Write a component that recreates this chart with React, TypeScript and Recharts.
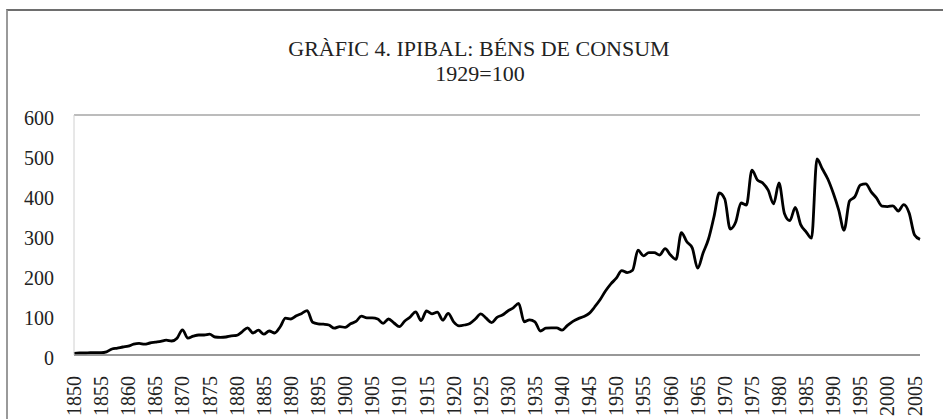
import React from "react";
import {
    LineChart,
    Line,
    XAxis,
    YAxis,
    CartesianGrid,
} from "recharts";

const firstYear = 1850;

// Índex 1929=100, un valor per any (1850-2006)
const values1850s = [4, 5, 5, 6, 6, 6, 8, 15, 17, 20];
const values1860s = [22, 27, 29, 27, 30, 32, 34, 37, 35, 42];
const values1870s = [63, 42, 47, 50, 50, 52, 45, 44, 45, 48];
const values1880s = [49, 58, 68, 55, 62, 52, 60, 55, 70, 92];
const values1890s = [90, 98, 104, 111, 82, 78, 77, 75, 67, 71];
const values1900s = [69, 78, 84, 97, 93, 93, 90, 79, 90, 80];
const values1910s = [71, 85, 95, 108, 86, 110, 103, 107, 87, 104];
const values1920s = [83, 73, 75, 79, 90, 103, 92, 81, 94, 100];
const values1930s = [110, 118, 129, 83, 88, 83, 60, 67, 68, 68];
const values1940s = [62, 74, 84, 91, 96, 104, 120, 138, 160, 178];
const values1950s = [192, 211, 206, 212, 262, 248, 256, 256, 250, 266];
const values1960s = [250, 239, 306, 283, 268, 217, 255, 290, 345, 405];
const values1970s = [390, 315, 332, 380, 375, 462, 438, 430, 412, 378];
const values1980s = [430, 354, 336, 369, 326, 308, 292, 490, 465, 440];
const values1990s = [405, 363, 312, 385, 396, 425, 428, 408, 392, 372];
const values2000s = [371, 373, 360, 376, 355, 300, 289];

const values = [
    ...values1850s,
    ...values1860s,
    ...values1870s,
    ...values1880s,
    ...values1890s,
    ...values1900s,
    ...values1910s,
    ...values1920s,
    ...values1930s,
    ...values1940s,
    ...values1950s,
    ...values1960s,
    ...values1970s,
    ...values1980s,
    ...values1990s,
    ...values2000s,
];

const yTicks = [0, 100, 200, 300, 400, 500, 600];

const data = values.map((v, i) => ({ year: String(firstYear + i), value: v }));

const font = '"Liberation Serif", "Times New Roman", serif';

function YearTick(props: any) {
    const { x, y, payload } = props;
    return (
        <g transform={`translate(${x},${y + 13})`}>
            <text
                transform="rotate(-90)"
                textAnchor="end"
                dy="0.35em"
                fontFamily={font}
                fontSize={20}
                fill="#222"
            >
                {payload.value}
            </text>
        </g>
    );
}

export default function App() {
    return (
        <div
            style={{
                position: "fixed",
                left: 0,
                top: 0,
                width: 943,
                height: 419,
                overflow: "hidden",
                background: "#fff",
            }}
        >
            <div
                style={{
                    position: "absolute",
                    left: 6,
                    top: 9,
                    width: 960,
                    height: 440,
                    borderLeft: "2px solid #9a9a9a",
                    borderTop: "2px solid #6e6e6e",
                }}
            />
            <svg
                width={943}
                height={100}
                style={{ position: "absolute", left: 0, top: 0 }}
            >
                <text
                    x={479}
                    y={56}
                    textAnchor="middle"
                    fontFamily={font}
                    fontSize={22}
                    fill="#222"
                >
                    GRÀFIC 4. IPIBAL: BÉNS DE CONSUM
                </text>
                <text
                    x={480}
                    y={81}
                    textAnchor="middle"
                    fontFamily={font}
                    fontSize={22}
                    fill="#222"
                >
                    1929=100
                </text>
            </svg>
            <div style={{ position: "absolute", left: 0, top: 0 }}>
                <LineChart
                    width={943}
                    height={419}
                    data={data}
                    margin={{ top: 115, right: 23, left: 0, bottom: 0 }}
                >
                    <CartesianGrid
                        vertical={false}
                        stroke="#a6a6a6"
                        strokeWidth={1.5}
                    />
                    <XAxis
                        dataKey="year"
                        interval={4}
                        height={64}
                        tickLine={false}
                        axisLine={{ stroke: "#8c8c8c", strokeWidth: 1.5 }}
                        tick={<YearTick />}
                    />
                    <YAxis
                        yAxisId="left"
                        domain={[0, 600]}
                        ticks={yTicks}
                        width={74}
                        tickLine={false}
                        tickSize={0}
                        tickMargin={20}
                        axisLine={{ stroke: "#d0d0d0", strokeWidth: 1 }}
                        tick={{
                            fontFamily: font,
                            fontSize: 20,
                            fill: "#222",
                            dy: 3,
                        }}
                    />
                    <YAxis
                        yAxisId="right"
                        orientation="right"
                        domain={[0, 600]}
                        width={0}
                        tick={false}
                        tickLine={false}
                        axisLine={{ stroke: "#d0d0d0", strokeWidth: 1 }}
                    />
                    <Line
                        yAxisId="left"
                        type="monotone"
                        dataKey="value"
                        stroke="#000"
                        strokeWidth={2.8}
                        dot={false}
                        isAnimationActive={false}
                    />
                </LineChart>
            </div>
        </div>
    );
}
